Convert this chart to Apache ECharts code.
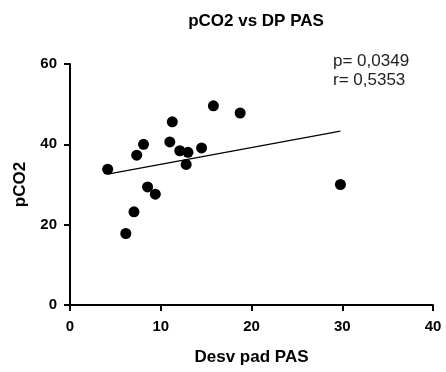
<!DOCTYPE html>
<html><head><meta charset="utf-8">
<script src="https://cdn.jsdelivr.net/npm/echarts@6/dist/echarts.min.js"></script>
<style>html,body{margin:0;padding:0;background:#fff}#c{width:446px;height:372px}</style>
</head><body><div id="c"></div>
<script>
const xValues = [4.15, 7.35, 8.1, 11.27, 11.0, 12.1, 13.0, 12.8, 14.5, 15.8, 18.75, 8.55, 9.4, 7.05, 6.15, 29.8];
const yValues = [33.8, 37.3, 40.0, 45.6, 40.6, 38.4, 38.0, 35.0, 39.1, 49.6, 47.8, 29.4, 27.6, 23.2, 17.8, 30.0];
const fitLine = [[4.15, 32.6], [29.8, 43.3]];
const xTicks = [0, 10, 20, 30, 40];
const yTicks = [0, 20, 40, 60];
const statsText = ['p= 0,0349', 'r= 0,5353'];

const chart = echarts.init(document.getElementById('c'));
const F = 'Liberation Sans, Arial, sans-serif';
chart.setOption({
  animation: false,
  title: {text: 'pCO2 vs DP PAS', left: 251, top: 8, textAlign: 'center',
    textStyle: {fontFamily: F, fontWeight: 'bold', fontSize: 17, color: '#000'}},
  graphic: [{type: 'text', left: 333, top: 52,
    style: {text: statsText.join('\n'), fontFamily: F, fontSize: 17, lineHeight: 19, fill: '#222'}}],
  grid: {left: 70, right: 13, top: 64, bottom: 67},
  xAxis: {type: 'value', min: xTicks[0], max: xTicks[xTicks.length-1], interval: 10,
    name: 'Desv pad PAS', nameLocation: 'middle', nameGap: 44,
    nameTextStyle: {fontFamily: F, fontWeight: 'bold', fontSize: 17, color: '#000'},
    axisLine: {lineStyle: {color: '#000', width: 2}},
    axisTick: {length: 6, lineStyle: {color: '#000', width: 2}},
    axisLabel: {fontFamily: F, fontWeight: 'bold', fontSize: 15, color: '#000', margin: 14},
    splitLine: {show: false}},
  yAxis: {type: 'value', min: yTicks[0], max: yTicks[yTicks.length-1], interval: 20,
    name: 'pCO2', nameLocation: 'middle', nameGap: 41,
    nameTextStyle: {fontFamily: F, fontWeight: 'bold', fontSize: 17, color: '#000'},
    axisLine: {show: true, lineStyle: {color: '#000', width: 2}},
    axisTick: {show: true, length: 6, lineStyle: {color: '#000', width: 2}},
    axisLabel: {fontFamily: F, fontWeight: 'bold', fontSize: 15, color: '#000', margin: 13},
    splitLine: {show: false}},
  series: [
    {type: 'scatter', data: xValues.map((x, i) => [x, yValues[i]]),
      symbolSize: 11, itemStyle: {color: '#000', opacity: 1}},
    {type: 'line', data: fitLine, symbol: 'none',
      lineStyle: {color: '#000', width: 1.2}}
  ]
});
</script></body></html>
